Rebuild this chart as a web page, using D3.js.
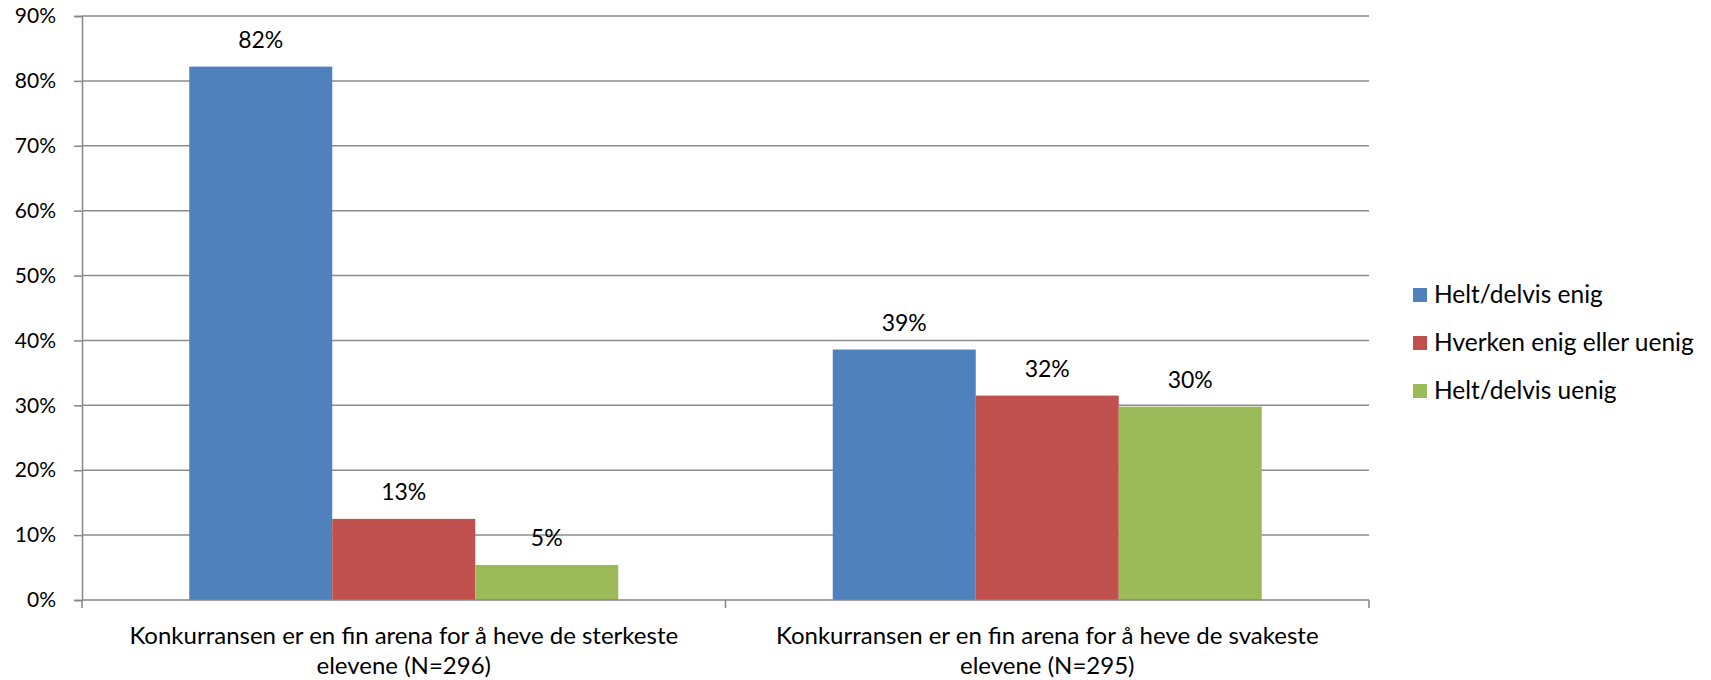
<!DOCTYPE html>
<html>
<head>
<meta charset="utf-8">
<script src="https://cdn.jsdelivr.net/npm/d3@7"></script>
<style>
  body { margin: 0; background: #fff; }
  svg text { font-family: Lato, "Open Sans", sans-serif; fill: #000; }
</style>
</head>
<body>
<div id="chart"></div>
<script>
// chart data
const categories = [
    ["Konkurransen er en fin arena for å heve de sterkeste", "elevene (N=296)"],
    ["Konkurransen er en fin arena for å heve de svakeste", "elevene (N=295)"]
];
const seriesNames = ["Helt/delvis enig", "Hverken enig eller uenig", "Helt/delvis uenig"];
const seriesColors = ["#4F81BD", "#C0504D", "#9BBB59"];
// values per category, same order as seriesNames
const values = [
    [0.822, 0.125, 0.054],
    [0.386, 0.315, 0.298]
];
const valueLabels = [
    ["82%", "13%", "5%"],
    ["39%", "32%", "30%"]
];
const yTicks = [0, 0.1, 0.2, 0.3, 0.4, 0.5, 0.6, 0.7, 0.8, 0.9];

const width = 1711, height = 680;
const plot = {left: 82, right: 1369, top: 16, bottom: 600};

const svg = d3.select("#chart").append("svg")
    .attr("width", width)
    .attr("height", height);

const x0 = d3.scaleBand()
    .domain(d3.range(categories.length))
    .range([plot.left, plot.right])
    .padding(0);

const x1 = d3.scaleBand()
    .domain(d3.range(seriesNames.length))
    .range([0, x0.bandwidth()])
    .paddingInner(0)
    .paddingOuter(0.75);

const y = d3.scaleLinear()
    .domain([0, 0.9])
    .range([plot.bottom, plot.top]);

// gridlines + left axis
const yAxis = svg.append("g")
    .attr("transform", `translate(${plot.left},0)`)
    .call(d3.axisLeft(y).tickValues(yTicks).tickFormat(d3.format(".0%"))
        .tickSize(8).tickPadding(18));
yAxis.select(".domain").attr("stroke", "#868686").attr("stroke-width", 1.5);
yAxis.selectAll(".tick line").attr("stroke", "#868686").attr("stroke-width", 1.5);
yAxis.selectAll(".tick text").style("font-size", "21px");

svg.append("g")
    .selectAll("line")
    .data(yTicks.filter(d => d > 0))
    .join("line")
    .attr("x1", plot.left)
    .attr("x2", plot.right)
    .attr("y1", d => y(d))
    .attr("y2", d => y(d))
    .attr("stroke", "#8c8c8c")
    .attr("stroke-width", 1.5);

// bars
const groups = svg.append("g")
    .selectAll("g")
    .data(values)
    .join("g")
    .attr("transform", (d, i) => `translate(${x0(i)},0)`);

groups.selectAll("rect")
    .data(d => d)
    .join("rect")
    .attr("x", (d, j) => x1(j))
    .attr("y", d => y(d))
    .attr("width", x1.bandwidth())
    .attr("height", d => y(0) - y(d))
    .attr("fill", (d, j) => seriesColors[j]);

groups.selectAll("text")
    .data((d, i) => d.map((v, j) => ({v: v, label: valueLabels[i][j]})))
    .join("text")
    .attr("x", (d, j) => x1(j) + x1.bandwidth() / 2)
    .attr("y", d => y(d.v) - 19)
    .attr("text-anchor", "middle")
    .style("font-size", "23px")
    .text(d => d.label);

// bottom axis
const xAxis = svg.append("g")
    .attr("transform", `translate(0,${plot.bottom})`);
xAxis.append("line")
    .attr("x1", plot.left).attr("x2", plot.right)
    .attr("stroke", "#868686").attr("stroke-width", 1.5);
xAxis.selectAll("line.tk")
    .data([plot.left, x0(1), plot.right])
    .join("line")
    .attr("class", "tk")
    .attr("x1", d => d).attr("x2", d => d)
    .attr("y1", 0).attr("y2", 8)
    .attr("stroke", "#868686").attr("stroke-width", 1.5);

const catLabels = xAxis.selectAll("text")
    .data(categories)
    .join("text")
    .attr("text-anchor", "middle")
    .style("font-size", "24px");
catLabels.selectAll("tspan")
    .data((d, i) => d.map(line => ({line: line, i: i})))
    .join("tspan")
    .attr("x", d => x0(d.i) + x0.bandwidth() / 2)
    .attr("y", (d, k) => 44 + k * 30)
    .text(d => d.line);

// legend
const legend = svg.append("g")
    .attr("transform", "translate(1413,295)");
const items = legend.selectAll("g")
    .data(seriesNames)
    .join("g")
    .attr("transform", (d, i) => `translate(0,${i * 48})`);
items.append("rect")
    .attr("x", 0).attr("y", -7)
    .attr("width", 14).attr("height", 14)
    .attr("fill", (d, i) => seriesColors[i]);
items.append("text")
    .attr("x", 21)
    .attr("y", 8)
    .style("font-size", "24.5px")
    .text(d => d);
</script>
</body>
</html>
